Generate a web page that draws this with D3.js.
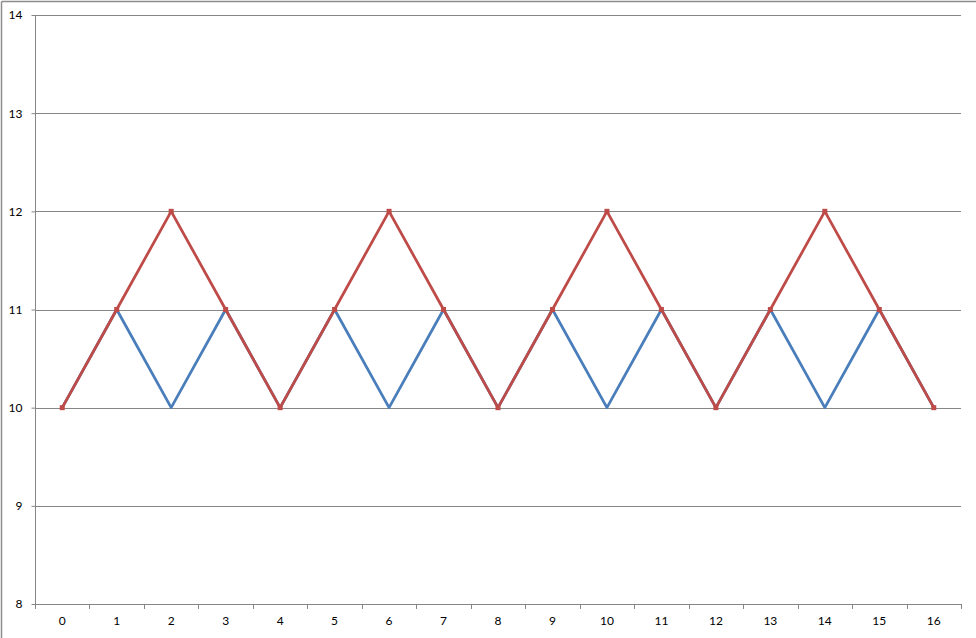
<!DOCTYPE html>
<html><head><meta charset="utf-8">
<script src="https://cdn.jsdelivr.net/npm/d3@7"></script>
<style>body{margin:0;background:#fff;}svg{display:block;font-family:Lato,"Open Sans",sans-serif;}</style>
</head><body><svg id="c" width="976" height="638"></svg>
<script>
const categories = [0,1,2,3,4,5,6,7,8,9,10,11,12,13,14,15,16];
const blueValues = [10,11,10,11,10,11,10,11,10,11,10,11,10,11,10,11,10];
const redValues  = [10,11,12,11,10,11,12,11,10,11,12,11,10,11,12,11,10];
const yTicks = [8,9,10,11,12,13,14];

const svg = d3.select("#c");
const L=35,R=961,T=15,B=604;
const xb = d3.scaleBand().domain(categories).range([L,R]);
const x = d => xb(d)+xb.bandwidth()/2;
const y = d3.scaleLinear().domain([8,14]).range([B,T]);

// outer border (top and left)
svg.append("line").attr("x1",1.5).attr("x2",976).attr("y1",1.5).attr("y2",1.5).attr("stroke","#8c8c8c").attr("stroke-width",1.5);
svg.append("line").attr("x1",1.5).attr("x2",1.5).attr("y1",1.5).attr("y2",638).attr("stroke","#8c8c8c").attr("stroke-width",1.5);

// gridlines
svg.append("g").selectAll("line").data(yTicks.filter(d=>d>8)).join("line")
  .attr("x1",L).attr("x2",R).attr("y1",d=>Math.round(y(d))+0.5).attr("y2",d=>Math.round(y(d))+0.5)
  .attr("stroke","#868686").attr("stroke-width",1);

// y axis
const ya = svg.append("g").attr("transform",`translate(${L+0.5},0)`)
  .call(d3.axisLeft(y).tickValues(yTicks).tickSize(4).tickPadding(9).tickFormat(d3.format("d")));
ya.selectAll("line,path").attr("stroke","#868686");
ya.selectAll("text").attr("font-size",12).attr("fill","#000").attr("font-family","Lato,'Open Sans',sans-serif");
ya.select(".domain").attr("d",`M0,${B}V${T}`);

// x axis
const xa = svg.append("g").attr("transform",`translate(0,${B+0.5})`)
  .call(d3.axisBottom(xb).tickSize(0).tickPadding(12).tickFormat(d=>d));
xa.select(".domain").attr("d",`M${L},0H${R}`).attr("stroke","#868686");
xa.selectAll("text").attr("font-size",12).attr("fill","#000").attr("font-family","Lato,'Open Sans',sans-serif");
svg.append("g").selectAll("line").data(categories.concat([null])).join("line")
  .attr("x1",(d,i)=>Math.round(i<categories.length?xb(d):R)+0.5)
  .attr("x2",(d,i)=>Math.round(i<categories.length?xb(d):R)+0.5)
  .attr("y1",B).attr("y2",B+5).attr("stroke","#868686");

const line = d3.line().x((d,i)=>x(categories[i])).y(d=>y(d));
svg.append("path").datum(blueValues).attr("d",line).attr("fill","none")
  .attr("stroke","#4A7EBB").attr("stroke-width",2.75).attr("stroke-linejoin","round");
svg.append("path").datum(redValues).attr("d",line).attr("fill","none")
  .attr("stroke","#BE4B48").attr("stroke-width",2.75).attr("stroke-linejoin","round");
svg.append("g").selectAll("rect").data(redValues).join("rect")
  .attr("x",(d,i)=>x(categories[i])-2.5).attr("y",d=>y(d)-2.5).attr("width",5).attr("height",5)
  .attr("fill","#BE4B48");
</script></body></html>
